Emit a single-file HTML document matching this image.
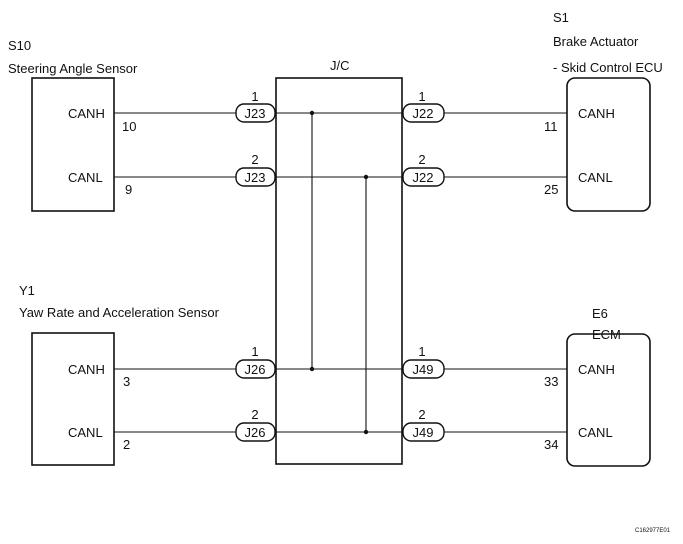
<!DOCTYPE html>
<html><head><style>
html,body{margin:0;padding:0;background:#fff;}
svg text{font-family:"Liberation Sans",Arial,sans-serif;font-size:13px;fill:#111;}
</style></head><body>
<svg width="683" height="539" viewBox="0 0 683 539" xmlns="http://www.w3.org/2000/svg">
<g stroke="#111" fill="none">
<rect x="32" y="78" width="82" height="133" stroke-width="1.6"/>
<rect x="32" y="333" width="82" height="132" stroke-width="1.6"/>
<rect x="276" y="78" width="126" height="386" stroke-width="1.6"/>
<rect x="567" y="78" width="83" height="133" rx="8" stroke-width="1.6"/>
<rect x="567" y="334" width="83" height="132" rx="8" stroke-width="1.6"/>
<g stroke-width="1.1">
<line x1="114" y1="113" x2="236" y2="113"/><line x1="114" y1="177" x2="236" y2="177"/>
<line x1="114" y1="369" x2="236" y2="369"/><line x1="114" y1="432" x2="236" y2="432"/>
<line x1="276" y1="113" x2="402" y2="113"/><line x1="276" y1="177" x2="402" y2="177"/>
<line x1="276" y1="369" x2="402" y2="369"/><line x1="276" y1="432" x2="402" y2="432"/>
<line x1="444" y1="113" x2="567" y2="113"/><line x1="444" y1="177" x2="567" y2="177"/>
<line x1="444" y1="369" x2="567" y2="369"/><line x1="444" y1="432" x2="567" y2="432"/>
<line x1="312" y1="113" x2="312" y2="369"/><line x1="366" y1="177" x2="366" y2="432"/>
</g>
<g stroke-width="1.4" fill="#fff">
<rect x="236" y="104" width="39" height="18" rx="8"/><rect x="236" y="168" width="39" height="18" rx="8"/>
<rect x="236" y="360" width="39" height="18" rx="8"/><rect x="236" y="423" width="39" height="18" rx="8"/>
<rect x="403" y="104" width="41" height="18" rx="8"/><rect x="403" y="168" width="41" height="18" rx="8"/>
<rect x="403" y="360" width="41" height="18" rx="8"/><rect x="403" y="423" width="41" height="18" rx="8"/>
</g>
</g>
<g fill="#111"><circle cx="312" cy="113" r="2.2"/><circle cx="366" cy="177" r="2.2"/><circle cx="312" cy="369" r="2.2"/><circle cx="366" cy="432" r="2.2"/></g>
<text x="8" y="50">S10</text><text x="8" y="73">Steering Angle Sensor</text>
<text x="330" y="70">J/C</text>
<text x="553" y="22">S1</text><text x="553" y="46">Brake Actuator</text><text x="553" y="72">- Skid Control ECU</text>
<text x="19" y="295">Y1</text><text x="19" y="317">Yaw Rate and Acceleration Sensor</text>
<text x="592" y="318">E6</text><text x="592" y="339">ECM</text>
<text x="68" y="118">CANH</text><text x="68" y="182">CANL</text>
<text x="68" y="374">CANH</text><text x="68" y="437">CANL</text>
<text x="122" y="131">10</text><text x="125" y="194">9</text>
<text x="123" y="386">3</text><text x="123" y="449">2</text>
<text x="578" y="118">CANH</text><text x="578" y="182">CANL</text>
<text x="578" y="374">CANH</text><text x="578" y="437">CANL</text>
<text x="544" y="131">11</text><text x="544" y="194">25</text>
<text x="544" y="386">33</text><text x="544" y="449">34</text>
<g text-anchor="middle">
<text x="255" y="101">1</text><text x="255" y="164">2</text><text x="255" y="356">1</text><text x="255" y="419">2</text>
<text x="422" y="101">1</text><text x="422" y="164">2</text><text x="422" y="356">1</text><text x="422" y="419">2</text>
<text x="255" y="118">J23</text><text x="255" y="182">J23</text><text x="255" y="374">J26</text><text x="255" y="437">J26</text>
<text x="423" y="118">J22</text><text x="423" y="182">J22</text><text x="423" y="374">J49</text><text x="423" y="437">J49</text>
</g>
<text x="635" y="532" style="font-size:6px">C162977E01</text>
</svg>
</body></html>
